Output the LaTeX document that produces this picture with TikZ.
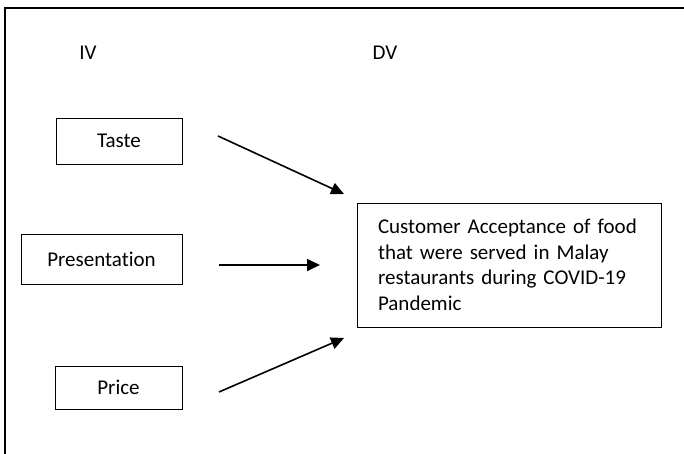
\documentclass[tikz,border=0pt]{standalone}
\usepackage{fontspec}
\setmainfont{Carlito}[Ligatures=NoCommon]
\usetikzlibrary{positioning,arrows.meta}
\tikzset{
	frame/.style={line width=1.5pt},
	heading/.style={font=\fontsize{21}{25.5}\selectfont},
	varbox/.style={draw,line width=0.9pt,font=\fontsize{21}{25.5}\selectfont},
	outcome/.style={draw,line width=0.9pt,align=left,text width=262pt,inner xsep=21pt,
		minimum height=124pt,font=\fontsize{21}{25.5}\selectfont},
	effect/.style={-{Triangle[length=13pt,width=12pt]},line width=1.6pt}
}

\begin{document}
\begin{tikzpicture}[x=1pt,y=-1pt]
	\useasboundingbox (0,0) rectangle (684,454);
	\clip (0,0) rectangle (684,454);
	\draw[frame] (5,8) rectangle (700,470);
	
	\node[heading] (iv) at (88,53) {IV};
	\node[heading] (dv) at (385,53) {DV};
	
	\node[varbox,minimum width=126pt,minimum height=46pt] (taste) at (119,141) {Taste};
	\node[varbox,minimum width=161pt,minimum height=50pt] (pres) at (101.5,259) {Presentation};
	\node[varbox,minimum width=127pt,minimum height=43pt] (price) at (118.5,387.5) {Price};
	\node[outcome] (accept) at (509,265) {Customer Acceptance of food\\that were served in Malay\\restaurants during COVID-19\\Pandemic};
	
	\coordinate (taste out) at (218,136);
	\coordinate (taste in) at (344,194);
	\coordinate (pres out) at (219,265);
	\coordinate (pres in) at (320,265);
	\coordinate (price out) at (219,392);
	\coordinate (price in) at (344,338);
	
	\path[effect] (taste out) edge (taste in);
	\path[effect] (pres out) edge (pres in);
	\path[effect] (price out) edge (price in);
\end{tikzpicture}
\end{document}
